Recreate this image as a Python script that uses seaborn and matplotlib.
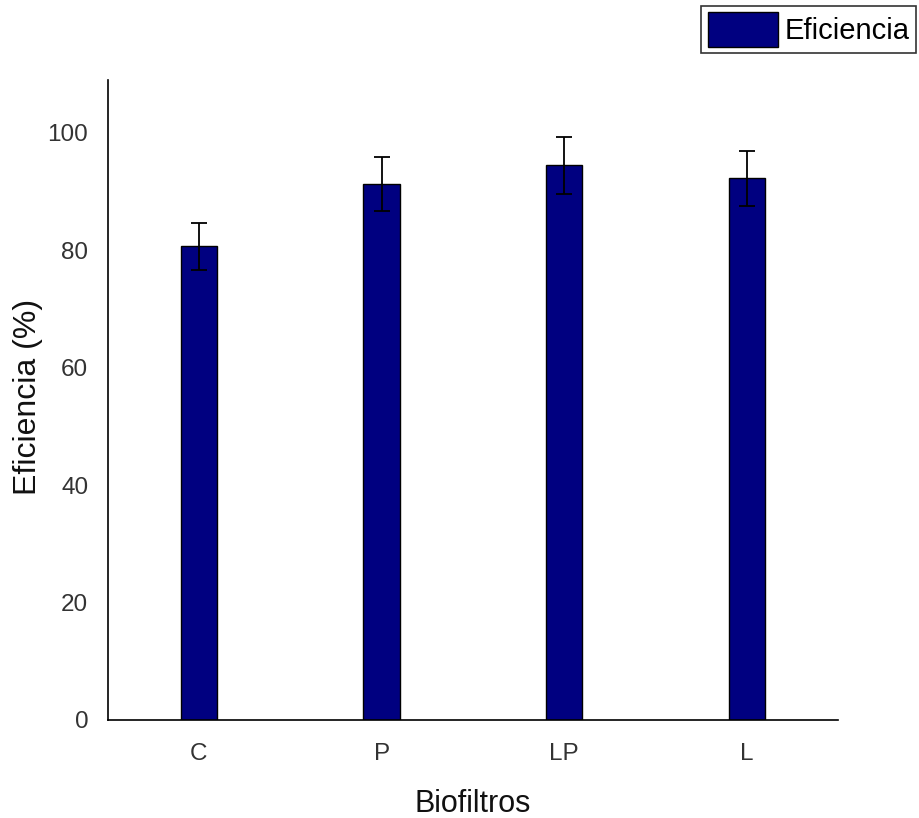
import pandas as pd
import seaborn as sns
import matplotlib.pyplot as plt
from matplotlib.patches import Patch

biofiltros = ["C", "P", "LP", "L"]
eficiencia = [80.7, 91.3, 94.5, 92.3]
error = [4.0, 4.6, 4.9, 4.7]

df = pd.DataFrame({"Biofiltros": biofiltros, "Eficiencia": eficiencia})

sns.set_style("white")
plt.rcParams["font.family"] = ["Liberation Sans", "DejaVu Sans"]
plt.rcParams["text.color"] = "black"

fig, ax = plt.subplots(figsize=(9.2, 8.18), dpi=100)
fig.subplots_adjust(left=0.117, right=0.911, bottom=0.12, top=0.902)

sns.barplot(data=df, x="Biofiltros", y="Eficiencia", color="#000080",
            width=0.2, edgecolor="black", linewidth=1, errorbar=None, ax=ax,
            saturation=1)
ax.errorbar(biofiltros, eficiencia, yerr=error, fmt="none", ecolor="black",
            elinewidth=1.3, capsize=6, capthick=1.3)

ax.set_ylim(0, 109)
ax.set_xlim(-0.5, 3.5)
ax.set_yticks([0, 20, 40, 60, 80, 100])
ax.tick_params(axis="both", length=0, labelsize=17.5, labelcolor="#333333")
ax.tick_params(axis="y", pad=14)
ax.tick_params(axis="x", pad=17)
ax.set_xlabel("Biofiltros", fontsize=22, color="#111111")
ax.set_ylabel("Eficiencia (%)", fontsize=23, color="#111111")
ax.yaxis.set_label_coords(-0.088, 0.505)
ax.xaxis.set_label_coords(0.5, -0.108)

sns.despine(ax=ax)
for side in ["left", "bottom"]:
    ax.spines[side].set_color("black")
    ax.spines[side].set_linewidth(1.2)

handles = [Patch(facecolor="#000080", edgecolor="black", label="Eficiencia")]
leg = fig.legend(handles=handles, loc="upper right", bbox_to_anchor=(0.996, 0.993),
                 fontsize=21, frameon=True, fancybox=False, handlelength=2.4,
                 handleheight=1.45, borderpad=0.22, handletextpad=0.25,
                 borderaxespad=0)
leg.get_frame().set_edgecolor("black")
leg.get_frame().set_linewidth(1.2)

fig.savefig("out.png", dpi=100)
